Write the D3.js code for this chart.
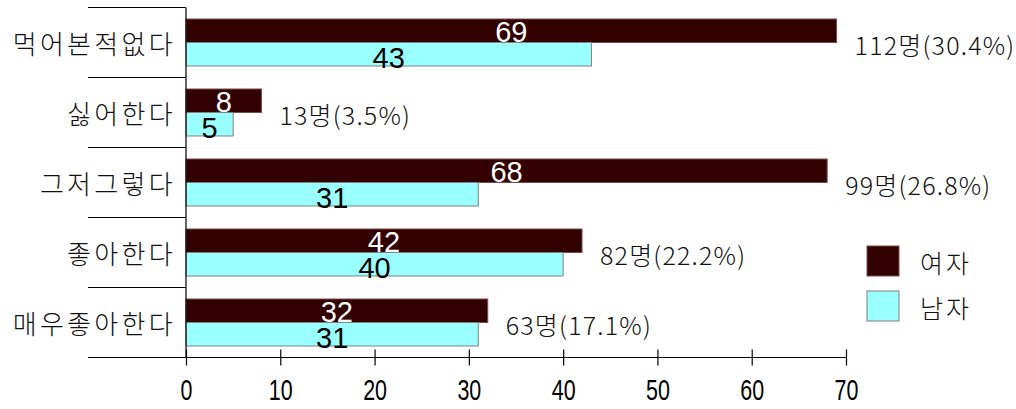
<!DOCTYPE html>
<html>
<head>
<meta charset="utf-8">
<script src="https://cdn.jsdelivr.net/npm/d3@7/dist/d3.min.js"></script>
<style>
  html, body { margin: 0; padding: 0; background: #ffffff; }
  svg { display: block; }
</style>
</head>
<body>
<svg id="chart" width="1016" height="409"></svg>
<script>
// Survey answers, top to bottom
const categories = ["먹어본적없다", "싫어한다", "그저그렇다", "좋아한다", "매우좋아한다"];
const seriesNames = ["여자", "남자"];
const femaleValues = [69, 8, 68, 42, 32];
const maleValues = [43, 5, 31, 40, 31];
const totalLabels = ["112명(30.4%)", "13명(3.5%)", "99명(26.8%)", "82명(22.2%)", "63명(17.1%)"];
const xTicks = [0, 10, 20, 30, 40, 50, 60, 70];

const colors = { "여자": "#330000", "남자": "#99ffff" };
const strokes = { "여자": "#7a4a4a", "남자": "#808080" };

const svg = d3.select("#chart");
const korFont = "'Noto Sans CJK KR', 'Noto Sans', sans-serif";

const x = d3.scaleLinear().domain([0, 70]).range([186, 846]);
const y = d3.scaleBand().domain(categories).range([7.5, 357.5]).padding(0);
const inner = d3.scaleBand().domain(seriesNames).range([0, y.bandwidth()])
  .paddingInner(0).paddingOuter(0.49);

const rows = categories.map((c, i) => ({
  cat: c,
  values: [
    { series: "여자", value: femaleValues[i] },
    { series: "남자", value: maleValues[i] }
  ],
  total: totalLabels[i],
  maxValue: Math.max(femaleValues[i], maleValues[i])
}));

// Category separators to the left of the axis
const axisY = y.range()[1];
const sepLeft = 88;
svg.append("g").selectAll("line")
  .data(categories.map(c => y(c)))
  .join("line")
  .attr("x1", sepLeft).attr("x2", x(0))
  .attr("y1", d => d).attr("y2", d => d)
  .attr("stroke", "#000").attr("stroke-width", 1.2);

// Bars
const groups = svg.append("g").selectAll("g")
  .data(rows)
  .join("g")
  .attr("transform", d => `translate(0,${y(d.cat)})`);

groups.selectAll("rect")
  .data(d => d.values)
  .join("rect")
  .attr("x", x(0))
  .attr("y", d => inner(d.series))
  .attr("width", d => x(d.value) - x(0))
  .attr("height", inner.bandwidth())
  .attr("fill", d => colors[d.series])
  .attr("stroke", d => strokes[d.series])
  .attr("stroke-width", 1);

// Value labels inside the bars
groups.selectAll("text.val")
  .data(d => d.values)
  .join("text")
  .attr("class", "val")
  .attr("x", d => (x(0) + x(d.value)) / 2)
  .attr("y", d => d.series === "여자"
      ? inner("여자") + inner.bandwidth() - 0.5
      : inner("남자") + inner.bandwidth() + 2)
  .attr("text-anchor", "middle")
  .attr("font-family", "'Liberation Sans', Arial, sans-serif")
  .attr("font-size", 29)
  .attr("fill", d => d.series === "여자" ? "#ffffff" : "#000000")
  .text(d => d.value);

// Totals to the right of each pair
groups.append("text")
  .attr("x", d => x(d.maxValue) + 18)
  .attr("y", inner("남자") + 1)
  .attr("dominant-baseline", "central")
  .attr("font-family", korFont)
  .attr("font-size", 25)
  .attr("font-weight", 300)
  .attr("letter-spacing", 1.2)
  .attr("fill", "#111")
  .text(d => d.total);

// Category labels
svg.append("g").selectAll("text")
  .data(categories)
  .join("text")
  .attr("x", 176)
  .attr("y", d => y(d) + y.bandwidth() / 2)
  .attr("dominant-baseline", "central")
  .attr("text-anchor", "end")
  .attr("font-family", korFont)
  .attr("font-size", 26)
  .attr("font-weight", 300)
  .attr("letter-spacing", 3.3)
  .attr("fill", "#111")
  .text(d => d);

// Vertical axis line
svg.append("line")
  .attr("x1", x(0)).attr("x2", x(0))
  .attr("y1", y.range()[0]).attr("y2", axisY)
  .attr("stroke", "#000").attr("stroke-width", 1.2);

// Bottom axis
const xAxis = d3.axisBottom(x).tickValues(xTicks).tickSize(8).tickSizeOuter(0).tickPadding(14);
const gx = svg.append("g").attr("transform", `translate(0,${axisY})`).call(xAxis);
gx.select(".domain").remove();
gx.append("line")
  .attr("x1", sepLeft).attr("x2", x(70))
  .attr("y1", 0).attr("y2", 0)
  .attr("stroke", "#000").attr("stroke-width", 1.2);
gx.selectAll(".tick line").attr("y1", -8).attr("y2", 8).attr("stroke", "#000").attr("stroke-width", 1.2);
// Narrow digits for the tick labels
gx.selectAll(".tick text")
  .attr("font-family", "'Liberation Sans', Arial, sans-serif")
  .attr("font-size", 29)
  .attr("fill", "#000")
  .attr("dy", "0.71em")
  .attr("transform", "scale(0.74,1)");

// Legend
const legend = svg.append("g").selectAll("g")
  .data(seriesNames)
  .join("g")
  .attr("transform", (d, i) => `translate(867,${246 + i * 45})`);
legend.append("rect")
  .attr("width", 32).attr("height", 30)
  .attr("fill", d => colors[d])
  .attr("stroke", d => strokes[d]).attr("stroke-width", 1);
legend.append("text")
  .attr("x", 53).attr("y", 16)
  .attr("dominant-baseline", "central")
  .attr("font-family", korFont)
  .attr("font-size", 25)
  .attr("font-weight", 300)
  .attr("letter-spacing", 3)
  .attr("fill", "#111")
  .text(d => d);
</script>
</body>
</html>
